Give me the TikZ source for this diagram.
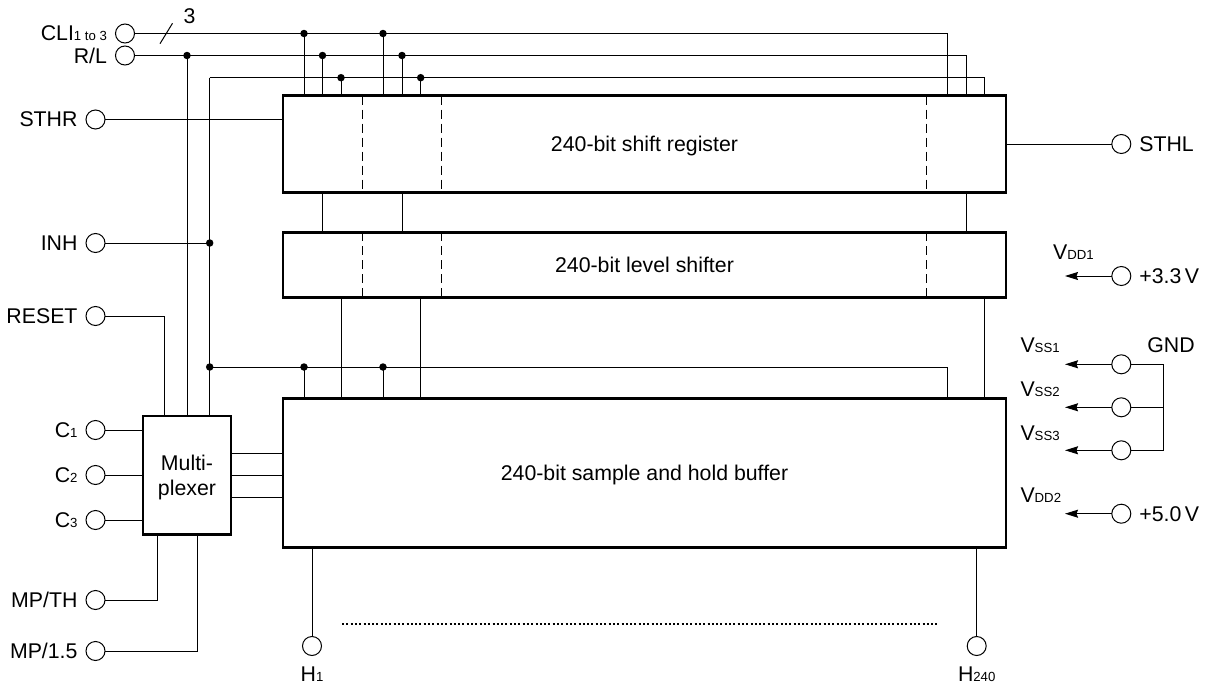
\documentclass[tikz,border=0pt]{standalone}
\usepackage{fontspec}
\setmainfont{Liberation Sans}
\usetikzlibrary{arrows.meta}
\newcommand{\subtxt}[1]{{\fontsize{13.2}{14}\selectfont #1}}
\begin{document}
\begin{tikzpicture}[x=1pt, y=-1pt, line width=1pt, font=\fontsize{21.3}{25.7}\selectfont, label distance=8pt,
		term/.style={circle, draw, fill=white, minimum size=19pt, inner sep=0pt, outer sep=0pt, line width=1pt},
		blockbox/.style={rectangle, draw, line width=2.5pt, inner sep=0pt, outer sep=0pt, text depth=0pt},
		dot/.style={circle, fill=black, minimum size=7.5pt, inner sep=0pt},
		pwr/.style={-{Stealth[length=13pt, width=8pt, inset=1.5pt]}},
		sepline/.style={dash pattern=on 9pt off 5pt},
		voltlabel/.style={anchor=base west, inner sep=0pt},
		every label/.style={inner sep=0pt, text depth=0pt}]
		\useasboundingbox (0, 0) rectangle (1208, 688);
		% blocks
		\node [blockbox, minimum width=723pt, minimum height=97pt] (shiftreg) at (644.5, 144.2) {240-bit shift register};
		\node [blockbox, minimum width=723pt, minimum height=65.4pt] (levelshift) at (644.5, 265) {240-bit level shifter};
		\node [blockbox, minimum width=723pt, minimum height=148.6pt] (samplehold) at (644.5, 473) {240-bit sample and hold buffer};
		\node [blockbox, minimum width=88pt, minimum height=118.3pt, align=center] (mux) at (187, 475.2) {Multi-\\plexer};
		% left terminals
		\foreach \name/\xx/\yy/\txt in {cli/125/33.5/{CLI\subtxt{1 to 3}}, rl/125/55.5/{R/L}, sthr/95.5/119.5/STHR, inh/95.5/243/INH,
		reset/95.5/316/RESET, cone/95.5/430/{C\subtxt{1}}, ctwo/95.5/475/{C\subtxt{2}}, cthree/95.5/520/{C\subtxt{3}},
		mpth/95.5/600/{MP/TH}, mpfive/95.5/651/{MP/1.5}}{
		\node [term, label={left:\txt}] (\name) at (\xx, \yy) {};}
		% bus junctions
		\coordinate (cliend) at (947.3, 33.5);
		\coordinate (rlend) at (966, 55.5);
		\coordinate (inhend) at (984.7, 77.7);
		\coordinate (inhtop) at (209.7, 77.7);
		\coordinate (inhmid) at (209.7, 243);
		\coordinate (inhlow) at (209.7, 367);
		\coordinate (lowend) at (947.3, 367);
		\foreach \name/\xx/\yy in {clia/304/33.5, clib/383/33.5, rlm/187/55.5, rla/322.5/55.5, rlb/402/55.5,
		inha/341/77.7, inhb/420.7/77.7, lowa/304/367, lowb/383/367, resetin/164/316, mpthin/157/600, mpfivein/197/651,
		sepa/362.5/144, sepb/441.7/144, sepc/926.3/144, muxa/231/453, muxb/231/475, muxc/231/497.3}{
		\coordinate (\name) at (\xx, \yy);}
		% buses
		\draw (cli) -- (cliend) -- (cliend |- shiftreg.north);
		\draw (rl) -- (rlend) -- (rlend |- shiftreg.north);
		\draw (inhtop) -- (inhend) -- (inhend |- shiftreg.north);
		\draw (inhtop) -- (inhtop |- mux.north);
		\draw (inh) -- (inhmid);
		\draw (inhlow) -- (lowend) -- (lowend |- samplehold.north);
		\draw (rlm) -- (rlm |- mux.north);
		\draw (reset) -| (resetin |- mux.north);
		\foreach \name in {clia, clib, rla, rlb, inha, inhb}{
		\draw (\name) -- (\name |- shiftreg.north);}
		\foreach \name in {lowa, lowb}{
		\draw (\name) -- (\name |- samplehold.north);}
		\foreach \name in {rlm, clia, clib, rla, rlb, inha, inhb, inhmid, inhlow, lowa, lowb}{
		\node [dot] (\name dot) at (\name) {};}
		% between blocks
		\foreach \name in {rla, rlb, rlend}{
		\draw (\name |- shiftreg.south) -- (\name |- levelshift.north);}
		\foreach \name in {inha, inhb, inhend}{
		\draw (\name |- levelshift.south) -- (\name |- samplehold.north);}
		\foreach \name in {sepa, sepb, sepc}{
		\draw [sepline] (\name |- shiftreg.north) -- (\name |- shiftreg.south);
		\draw [sepline] (\name |- levelshift.north) -- (\name |- levelshift.south);}
		\draw (sthr) -- (sthr -| shiftreg.west);
		% multiplexer
		\foreach \name in {cone, ctwo, cthree}{
		\draw (\name) -- (\name -| mux.west);}
		\foreach \name in {muxa, muxb, muxc}{
		\draw (\name) -- (\name -| samplehold.west);}
		\draw (mpth) -| (mpthin |- mux.south);
		\draw (mpfive) -| (mpfivein |- mux.south);
		% outputs
		\node [term, label={[yshift=-3pt]below:H\subtxt{1}}] (hone) at (312, 646) {};
		\node [term, label={[yshift=-3pt]below:H\subtxt{240}}] (hlast) at (976.7, 646) {};
		\draw (hone) -- (hone |- samplehold.south);
		\draw (hlast) -- (hlast |- samplehold.south);
		\coordinate (dotsa) at (342, 624.3);
		\coordinate (dotsb) at (937.7, 624.3);
		\draw [line width=2pt, dash pattern=on 2pt off 2.3pt] (dotsa) -- (dotsb);
		% slash
		\coordinate (slasha) at (160, 43.7);
		\coordinate (slashb) at (172.5, 23.3);
		\draw (slasha) -- (slashb);
		\node [inner sep=0pt] (slashtxt) at (189.5, 16) {3};
		% right terminals
		\node [term, label={right:STHL}] (sthl) at (1121.3, 144) {};
		\draw (shiftreg.east |- sthl) -- (sthl);
		\node [term, label={right:+3.3\,V}] (vddone) at (1121.3, 276) {};
		\node [term] (vssone) at (1121.3, 364.3) {};
		\node [term] (vsstwo) at (1121.3, 407.3) {};
		\node [term] (vssthree) at (1121.3, 450.3) {};
		\node [term, label={right:+5.0\,V}] (vddtwo) at (1121.3, 513.7) {};
		\foreach \name in {vddone, vssone, vsstwo, vssthree, vddtwo}{
		\coordinate (\name tip) at (1065, 0 |- \name);
		\draw [pwr] (\name) -- (\name tip);}
		\node [voltlabel] (vddonetxt) at (1052.7, 259) {V\subtxt{DD1}};
		\node [voltlabel] (vssonetxt) at (1020, 352.7) {V\subtxt{SS1}};
		\node [voltlabel] (vsstwotxt) at (1020, 396.7) {V\subtxt{SS2}};
		\node [voltlabel] (vssthreetxt) at (1020, 440) {V\subtxt{SS3}};
		\node [voltlabel] (vddtwotxt) at (1020, 502.7) {V\subtxt{DD2}};
		\coordinate (gndtop) at (1163, 364.3);
		\coordinate (gndlow) at (1163, 450.3);
		\draw (vssone) -- (gndtop) -- (gndlow) -- (vssthree);
		\draw (vsstwo) -- (vsstwo -| gndtop);
		\node [inner sep=0pt, text depth=0pt] (gndtxt) at (1171, 345.5) {GND};
		\end{tikzpicture}
\end{document}
